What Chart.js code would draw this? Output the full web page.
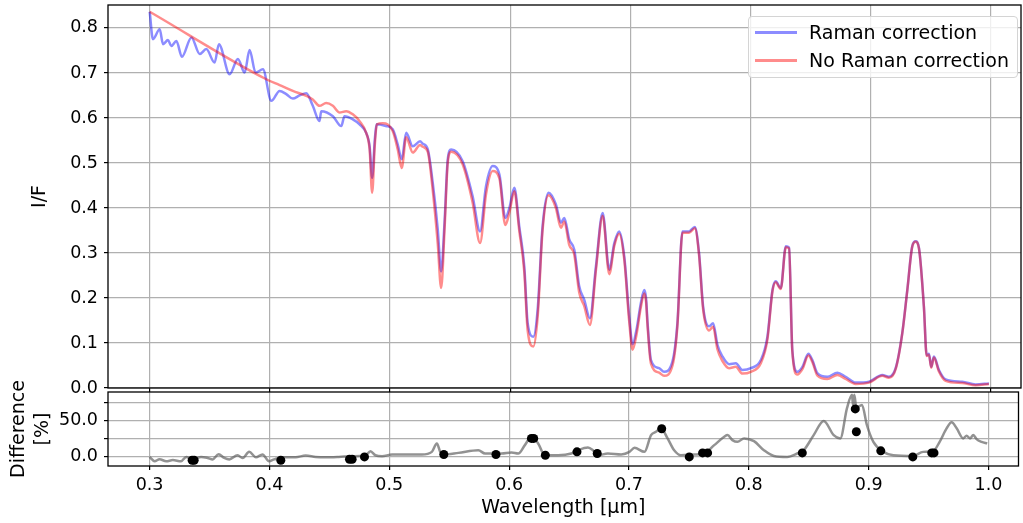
<!DOCTYPE html>
<html>
<head>
<meta charset="utf-8">
<script src="https://cdn.jsdelivr.net/npm/chart.js@4.4.1/dist/chart.umd.min.js"></script>
<style>
  body { margin: 0; background: #fff; width: 1023px; height: 523px; overflow: hidden; position: relative; font-family: 'DejaVu Sans', sans-serif; }
  canvas { position: absolute; left: 0; }
  #topChart { top: 0; }
  #diffChart { top: 340px; }
  #legend { position: absolute; left: 748px; top: 16px; width: 268px; height: 60px; border: 1px solid #d4d4d4; border-radius: 4px; background: rgba(255,255,255,0.8); font-size: 19px; color: #000; }
  #legend .row { position: absolute; left: 0; height: 22px; line-height: 22px; white-space: nowrap; }
  #legend .sw { position: absolute; left: 6px; top: 10px; width: 42px; height: 3px; }
  #legend .tx { position: absolute; left: 60px; top: 0; }
</style>
</head>
<body>
<canvas id="topChart" width="1023" height="400"></canvas>
<canvas id="diffChart" width="1023" height="183"></canvas>
<div id="legend">
  <div class="row" style="top:4px"><span class="sw" style="background:rgba(0,0,255,0.45)"></span><span class="tx">Raman correction</span></div>
  <div class="row" style="top:32px"><span class="sw" style="background:rgba(255,0,0,0.45)"></span><span class="tx">No Raman correction</span></div>
</div>
<script>
// tick positions
const wavelengthTicks = [0.3, 0.4, 0.5, 0.6, 0.7, 0.8, 0.9, 1.0];
const ifTicks = [0, 0.1, 0.2, 0.3, 0.4, 0.5, 0.6, 0.7, 0.8];
const diffTicks = [0, 25, 50, 75];

// I/F with Raman correction
const ramanWl = [0.300,0.3027,0.3083,0.3111,0.3152,0.3180,0.3222,0.3268,0.3347,0.3416,0.3471,0.3540,0.3576,0.3665,0.3734,0.3790,0.3831,0.3881,0.3942,0.4012,0.4081,0.4136,0.4191,0.4247,0.4303,0.4357,0.4413,0.4427,0.4524,0.4594,0.4621,0.4690,0.4746,0.4801,0.4830,0.4851,0.4873,0.4890,0.4967,0.5022,0.5064,0.5097,0.5134,0.5189,0.5250,0.5272,0.5314,0.5355,0.5397,0.5425,0.5453,0.5480,0.5508,0.5604,0.5687,0.5749,0.5798,0.5854,0.5910,0.5959,0.5993,0.6034,0.6075,0.6117,0.6145,0.6192,0.6228,0.6269,0.6319,0.6380,0.6422,0.6450,0.6491,0.6533,0.6574,0.6616,0.6663,0.6713,0.6769,0.6824,0.6866,0.6907,0.6949,0.6990,0.7018,0.7050,0.7087,0.7115,0.7130,0.7143,0.7171,0.7239,0.7280,0.7350,0.7391,0.7433,0.7488,0.7536,0.7571,0.7605,0.7655,0.7688,0.7724,0.7766,0.7821,0.7877,0.7932,0.8002,0.8085,0.8140,0.8182,0.8209,0.8251,0.8293,0.8320,0.8347,0.8389,0.8431,0.8481,0.8514,0.8555,0.8638,0.8722,0.8791,0.8874,0.8985,0.9096,0.9151,0.9207,0.9262,0.9304,0.9345,0.9373,0.9401,0.9442,0.9465,0.9484,0.9503,0.9525,0.9567,0.9623,0.9761,0.9872,0.9983];
const ramanIF = [0.836,0.775,0.797,0.764,0.773,0.760,0.771,0.736,0.779,0.742,0.753,0.723,0.764,0.697,0.731,0.701,0.751,0.701,0.708,0.638,0.660,0.653,0.643,0.650,0.655,0.627,0.593,0.615,0.604,0.582,0.604,0.597,0.586,0.567,0.537,0.467,0.552,0.586,0.582,0.575,0.541,0.508,0.567,0.537,0.548,0.543,0.530,0.456,0.352,0.259,0.367,0.508,0.530,0.504,0.426,0.348,0.448,0.493,0.474,0.378,0.400,0.445,0.359,0.270,0.144,0.114,0.174,0.359,0.434,0.408,0.367,0.378,0.330,0.307,0.226,0.196,0.155,0.270,0.389,0.263,0.322,0.348,0.292,0.159,0.097,0.129,0.189,0.218,0.200,0.144,0.062,0.044,0.036,0.059,0.144,0.348,0.348,0.358,0.300,0.181,0.137,0.144,0.096,0.070,0.053,0.055,0.040,0.044,0.062,0.114,0.218,0.237,0.222,0.315,0.312,0.085,0.036,0.047,0.076,0.062,0.033,0.025,0.034,0.025,0.012,0.014,0.029,0.025,0.044,0.122,0.218,0.315,0.326,0.311,0.181,0.073,0.076,0.047,0.070,0.040,0.019,0.014,0.008,0.010];

// I/F without Raman correction
const noRamanWl = [0.300,0.3970,0.4081,0.4191,0.4303,0.4357,0.4413,0.4468,0.4524,0.4580,0.4635,0.4690,0.4746,0.4801,0.4830,0.4851,0.4873,0.4890,0.4940,0.5022,0.5064,0.5097,0.5134,0.5189,0.5250,0.5272,0.5314,0.5355,0.5397,0.5425,0.5453,0.5480,0.5508,0.5604,0.5687,0.5749,0.5798,0.5854,0.5910,0.5959,0.5993,0.6034,0.6075,0.6117,0.6145,0.6192,0.6228,0.6269,0.6319,0.6380,0.6422,0.6450,0.6491,0.6533,0.6574,0.6616,0.6663,0.6713,0.6769,0.6824,0.6866,0.6907,0.6949,0.6990,0.7018,0.7050,0.7087,0.7115,0.7130,0.7143,0.7171,0.7239,0.7280,0.7350,0.7391,0.7433,0.7488,0.7536,0.7571,0.7605,0.7655,0.7688,0.7724,0.7766,0.7821,0.7877,0.7932,0.8002,0.8085,0.8140,0.8182,0.8209,0.8251,0.8293,0.8320,0.8347,0.8389,0.8431,0.8481,0.8514,0.8555,0.8638,0.8722,0.8791,0.8874,0.8985,0.9096,0.9151,0.9207,0.9262,0.9304,0.9345,0.9373,0.9401,0.9442,0.9465,0.9484,0.9503,0.9525,0.9567,0.9623,0.9761,0.9872,0.9983];
const noRamanIF = [0.836,0.686,0.673,0.660,0.649,0.641,0.627,0.633,0.627,0.612,0.615,0.608,0.593,0.567,0.530,0.434,0.540,0.586,0.588,0.571,0.530,0.489,0.557,0.523,0.540,0.536,0.525,0.440,0.320,0.222,0.350,0.500,0.525,0.497,0.412,0.322,0.430,0.482,0.466,0.362,0.390,0.437,0.350,0.258,0.128,0.092,0.158,0.350,0.428,0.400,0.356,0.370,0.318,0.296,0.212,0.182,0.140,0.262,0.383,0.253,0.316,0.343,0.285,0.148,0.085,0.118,0.180,0.210,0.192,0.136,0.054,0.034,0.027,0.050,0.138,0.345,0.345,0.355,0.296,0.175,0.128,0.136,0.086,0.060,0.044,0.047,0.032,0.036,0.055,0.108,0.215,0.235,0.220,0.313,0.310,0.082,0.030,0.042,0.072,0.058,0.028,0.020,0.029,0.020,0.009,0.012,0.027,0.023,0.042,0.121,0.217,0.314,0.325,0.310,0.180,0.071,0.074,0.045,0.068,0.037,0.016,0.011,0.006,0.009];

// difference in percent
const diffWl = [0.3000,0.3042,0.3083,0.3139,0.3194,0.3263,0.3305,0.3360,0.3430,0.3485,0.3526,0.3576,0.3623,0.3665,0.3734,0.3776,0.3831,0.3887,0.3942,0.3997,0.4039,0.4108,0.4219,0.4302,0.4386,0.4469,0.4579,0.4690,0.4801,0.4843,0.4884,0.4940,0.5023,0.5134,0.5272,0.5355,0.5397,0.5425,0.5452,0.5577,0.5743,0.5799,0.5937,0.6020,0.6076,0.6131,0.6186,0.6242,0.6297,0.6408,0.6519,0.6574,0.6658,0.6699,0.6741,0.6824,0.6935,0.7004,0.7046,0.7129,0.7184,0.7225,0.7267,0.7322,0.7377,0.7433,0.7544,0.7627,0.7711,0.7795,0.7822,0.7863,0.7905,0.7960,0.8043,0.8126,0.8209,0.8320,0.8403,0.8458,0.8541,0.8625,0.8708,0.8763,0.8819,0.8861,0.8869,0.8880,0.8897,0.8944,0.8985,0.9039,0.9122,0.9205,0.9371,0.9454,0.9537,0.9592,0.9650,0.9692,0.9734,0.9789,0.9817,0.9845,0.9873,0.9900,0.9942,0.9989];
const diffPct = [-0.5,-6.6,-3.8,-6.6,-5.0,-6.6,-0.5,-4.0,-0.5,-2.0,-4.0,3.2,-2.0,-4.0,1.8,-2.0,6.5,-1.0,2.8,-6.6,-4.0,-1.0,-1.0,1.4,-0.5,-1.0,-0.5,0.4,1.4,7.4,1.8,0.4,2.8,2.8,2.8,6.5,18.3,6.5,2.8,5.1,8.8,4.2,4.2,5.6,4.2,15.9,27.5,18.3,1.8,1.8,4.2,8.8,12.6,8.8,1.8,4.2,2.8,6.5,12.1,6.5,29.9,34.5,39.3,25.3,8.8,1.8,2.8,4.2,15.9,27.5,29.9,22.9,20.5,25.3,21.5,8.8,0.8,-0.5,4.2,8.8,29.9,49.6,29.9,25.3,67.4,86.0,72.0,86.0,68.0,72.0,44.0,20.5,6.5,1.8,0.8,6.5,7.4,20.5,39.3,47.7,39.3,25.3,29.0,25.3,29.9,24.3,20.5,18.3];

// marked points on the difference curve
const markWl = [0.3355,0.3372,0.4095,0.4668,0.4690,0.4793,0.5455,0.5890,0.6186,0.6205,0.6302,0.6566,0.6735,0.7273,0.7503,0.7614,0.7656,0.8446,0.8888,0.8897,0.9101,0.9368,0.9526,0.9545];
const markPct = [-5.2,-5.2,-5.2,-3.8,-3.8,-0.5,2.8,2.8,25.3,25.3,1.8,6.5,4.2,38.8,-0.5,5.1,5.1,5.1,66.4,34.5,7.9,-0.5,5.1,5.1];

const xy = (xs, ys) => xs.map((x, i) => ({x: x, y: ys[i]}));

Chart.defaults.font.family = "'DejaVu Sans', sans-serif";
Chart.defaults.color = '#000';

// matplotlib style box round the plot area
const frame = {
  id: 'frame',
  afterDraw(chart) {
    const a = chart.chartArea, ctx = chart.ctx;
    ctx.save();
    ctx.strokeStyle = '#000';
    ctx.lineWidth = 1.3;
    ctx.strokeRect(a.left, a.top, a.right - a.left, a.bottom - a.top);
    ctx.restore();
  }
};

// fixed axis sizes, no extra room for edge labels
function fixX(h) {
  return s => { s.height = h; s.paddingLeft = 0; s.paddingRight = 0; s.paddingTop = 0; s.paddingBottom = 0; };
}
function fixY(w) {
  return s => { s.width = w; s.paddingLeft = 0; s.paddingRight = 0; s.paddingTop = 0; s.paddingBottom = 0; };
}

const gridStyle = {color: '#b0b0b0', lineWidth: 1.2, tickLength: 4, tickColor: '#000'};
const xMin = 0.2653, xMax = 1.025;

new Chart(document.getElementById('topChart'), {
  type: 'line',
  data: {
    datasets: [{
      label: 'Raman correction',
      data: xy(ramanWl, ramanIF),
      borderColor: 'rgba(0,0,255,0.45)',
      borderWidth: 2.5,
      pointRadius: 0,
      cubicInterpolationMode: 'monotone',
      order: 1
    }, {
      label: 'No Raman correction',
      data: xy(noRamanWl, noRamanIF),
      borderColor: 'rgba(255,0,0,0.45)',
      borderWidth: 2.5,
      pointRadius: 0,
      cubicInterpolationMode: 'monotone',
      order: 0
    }]
  },
  options: {
    responsive: false,
    animation: false,
    events: [],
    layout: {padding: {left: 25, top: 5, right: 2, bottom: 0}},
    plugins: {legend: {display: false}, tooltip: {enabled: false}},
    scales: {
      x: {
        type: 'linear', min: xMin, max: xMax,
        afterBuildTicks: s => { s.ticks = wavelengthTicks.map(v => ({value: v})); },
        afterFit: fixX(12),
        ticks: {display: false},
        grid: gridStyle,
        border: {display: false}
      },
      y: {
        min: 0, max: 0.851,
        afterBuildTicks: s => { s.ticks = ifTicks.map(v => ({value: v})); },
        afterFit: fixY(83),
        ticks: {callback: v => v.toFixed(1), padding: 6, font: {size: 17.5}},
        title: {display: true, text: 'I/F', font: {size: 19}, padding: {top: 4, bottom: 4}},
        grid: gridStyle,
        border: {display: false}
      }
    }
  },
  plugins: [frame]
});

new Chart(document.getElementById('diffChart'), {
  type: 'line',
  data: {
    datasets: [{
      label: 'points',
      data: xy(markWl, markPct),
      showLine: false,
      pointRadius: 4.5,
      pointBackgroundColor: '#000',
      pointBorderWidth: 0,
      order: 0
    }, {
      label: 'Difference',
      data: xy(diffWl, diffPct),
      borderColor: 'rgba(100,100,100,0.7)',
      borderWidth: 2.5,
      pointRadius: 0,
      cubicInterpolationMode: 'monotone',
      order: 1
    }]
  },
  options: {
    responsive: false,
    animation: false,
    events: [],
    layout: {padding: {left: 3, top: 52, right: 2, bottom: 0}},
    plugins: {legend: {display: false}, tooltip: {enabled: false}},
    scales: {
      x: {
        type: 'linear', min: xMin, max: xMax,
        afterBuildTicks: s => { s.ticks = wavelengthTicks.map(v => ({value: v})); },
        afterFit: fixX(57),
        ticks: {callback: v => v.toFixed(1), padding: 5, font: {size: 17.5}, autoSkip: false, maxRotation: 0},
        title: {display: true, text: 'Wavelength [μm]', font: {size: 19}, padding: {top: 4, bottom: 4}},
        grid: gridStyle,
        border: {display: false}
      },
      y: {
        min: -13.2, max: 90,
        afterBuildTicks: s => { s.ticks = diffTicks.map(v => ({value: v})); },
        afterFit: fixY(105),
        ticks: {callback: v => (v === 0 || v === 50) ? v.toFixed(1) : '', padding: 6, font: {size: 17.5}},
        title: {display: true, text: ['Difference', '[%]'], font: {size: 19, lineHeight: '24px'}, padding: {top: 4, bottom: 4}},
        grid: gridStyle,
        border: {display: false}
      }
    }
  },
  plugins: [frame]
});
</script>
</body>
</html>
